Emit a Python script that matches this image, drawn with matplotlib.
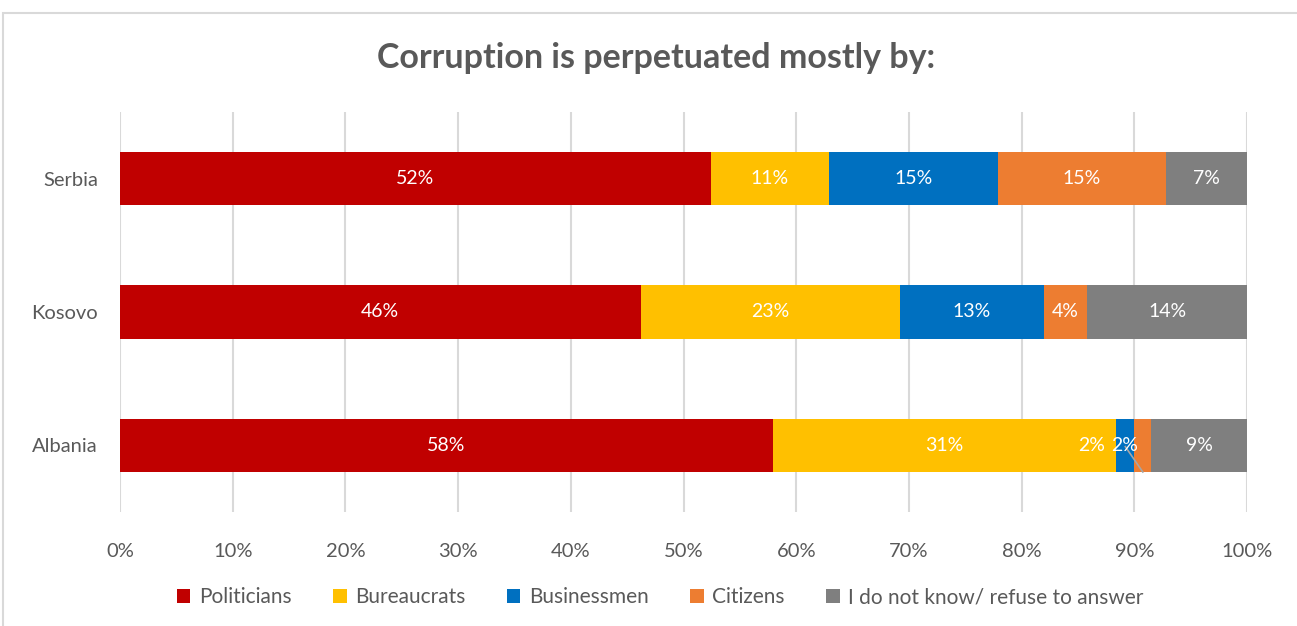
import matplotlib.pyplot as plt
from matplotlib.patches import Rectangle, Patch

countries = ["Albania", "Kosovo", "Serbia"]
groups = ["Politicians", "Bureaucrats", "Businessmen", "Citizens",
          "I do not know/ refuse to answer"]
politicians = [57.9, 46.2, 52.4]
bureaucrats = [30.5, 23.0, 10.5]
businessmen = [1.6, 12.8, 15.0]
citizens = [1.5, 3.8, 14.9]
dont_know = [8.5, 14.2, 7.2]
colors = ["#C00000", "#FFC000", "#0070C0", "#ED7D31", "#7F7F7F"]
ticks = [0, 10, 20, 30, 40, 50, 60, 70, 80, 90, 100]

plt.rcParams['font.family'] = ['Lato', 'DejaVu Sans']
text_gray = "#595959"

fig = plt.figure(figsize=(12.97, 6.26), dpi=100)
fig.patches.append(Rectangle((3 / 1297, -0.01), 1.0, 1 - 13 / 626 + 0.01,
                             transform=fig.transFigure, fill=False,
                             edgecolor="#d9d9d9", linewidth=1.5))
ax = fig.add_axes([0.0925, 0.1821, 0.869, 0.639])

series = [politicians, bureaucrats, businessmen, citizens, dont_know]
ypos = range(len(countries))
left = [0.0] * len(countries)
for vals, name, col in zip(series, groups, colors):
    ax.barh(ypos, vals, left=left, height=0.4, color=col, label=name,
            zorder=3)
    for i, v in enumerate(vals):
        cx = left[i] + v / 2
        label = f"{int(v + 0.5)}%"
        tx = cx
        if countries[i] == "Albania" and name == "Businessmen":
            tx = 86.2
        elif countries[i] == "Albania" and name == "Citizens":
            # label pushed aside, with a leader line back to the thin bar
            tx = 89.1
            ax.plot([89.2, cx], [i - 0.01, i - 0.2], color="#a6a6a6",
                    linewidth=1.2, zorder=4)
        ax.text(tx, i, label, ha="center", va="center", color="white",
                fontsize=14, zorder=5)
    left = [l + v for l, v in zip(left, vals)]

ax.set_xlim(0, 100)
ax.set_ylim(-0.5, 2.5)
ax.set_xticks(ticks)
ax.set_xticklabels([f"{t}%" for t in ticks])
ax.set_yticks(list(ypos))
ax.set_yticklabels(countries)
ax.tick_params(axis="both", length=0, labelsize=14.5, colors=text_gray)
ax.tick_params(axis="x", pad=22)
ax.tick_params(axis="y", pad=16)
ax.grid(axis="x", color="#d9d9d9", linewidth=1.5, zorder=0)
for s in ax.spines.values():
    s.set_visible(False)

fig.text(0.506, 1 - 58 / 626, "Corruption is perpetuated mostly by:",
         ha="center", va="center", fontsize=24.5, fontweight="bold",
         color=text_gray)

handles = [Patch(facecolor=c, label=g) for c, g in zip(colors, groups)]
fig.legend(handles=handles, loc="center", bbox_to_anchor=(0.509, 1 - 597 / 626),
           ncol=5, frameon=False, fontsize=15, handlelength=0.65,
           handleheight=0.65, handletextpad=0.4, columnspacing=2.0,
           labelcolor=text_gray)

fig.savefig("out.png", dpi=100)
